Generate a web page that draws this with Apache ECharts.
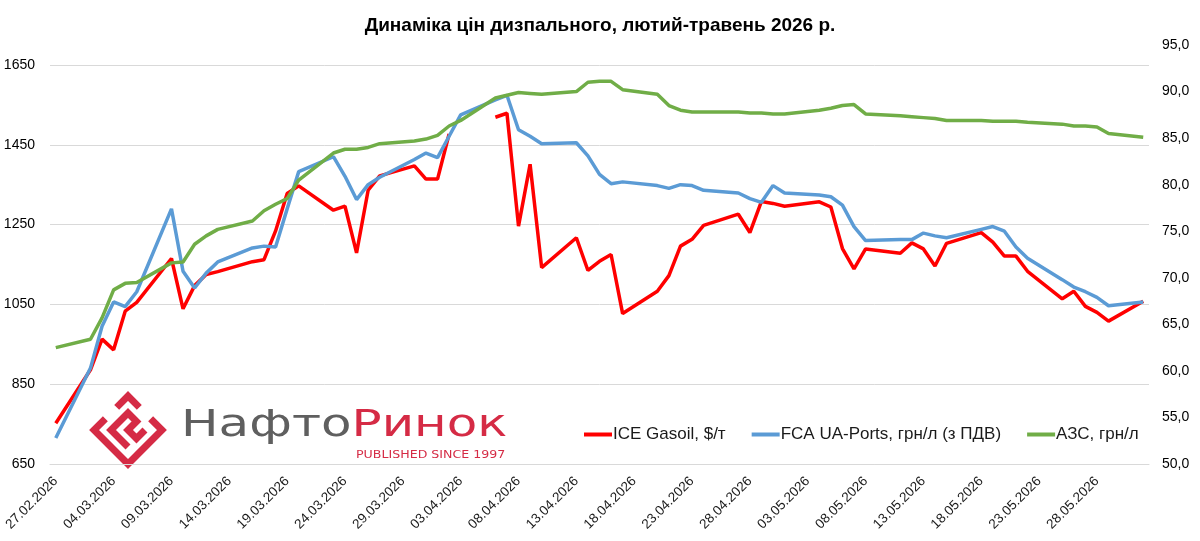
<!DOCTYPE html>
<html>
<head>
<meta charset="utf-8">
<title>Динаміка цін дизпального</title>
<script src="https://cdn.jsdelivr.net/npm/echarts@6/dist/echarts.min.js"></script>
<style>
    html, body { margin: 0; padding: 0; background: #fff; }
    #chart { width: 1200px; height: 541px; }
</style>
</head>
<body>
<div id="chart"></div>
<script>
// торгові дні (дд.мм, 2026)
var tradeDays = ['27.02',
    '02.03','03.03','04.03','05.03','06.03',
    '09.03','10.03','11.03','12.03','13.03',
    '16.03','17.03','18.03','19.03','20.03',
    '23.03','24.03','25.03','26.03','27.03',
    '30.03','31.03','01.04','02.04','03.04',
    '06.04','07.04','08.04','09.04','10.04',
    '13.04','14.04','15.04','16.04','17.04',
    '20.04','21.04','22.04','23.04','24.04',
    '27.04','28.04','29.04','30.04','01.05',
    '04.05','05.05','06.05','07.05','08.05',
    '11.05','12.05','13.05','14.05','15.05',
    '18.05','19.05','20.05','21.05','22.05',
    '25.05','26.05','27.05','28.05','29.05',
    '01.06'];

// ICE Gasoil, $/т (ліва вісь), 03.04 - немає даних
var gasoil = [752,
    886, 963, 936, 1033, 1055,
    1165, 1039, 1097, 1125, 1132,
    1157, 1162, 1234, 1328, 1347,
    1286, 1296, 1179, 1336, 1372,
    1397, 1364, 1364, 1477, null,
    1519, 1529, 1246, 1401, 1142,
    1217, 1135, 1158, 1175, 1027,
    1083, 1122, 1196, 1213, 1248,
    1276, 1230, 1308, 1303, 1296,
    1307, 1294, 1190, 1139, 1189,
    1178, 1204, 1189, 1146, 1203,
    1230, 1206, 1171, 1171, 1133,
    1064, 1083, 1045, 1030, 1008,
    1058];

// FCA UA-Ports, грн/л (права вісь)
var fcaPorts = [52.8,
    60.3, 64.8, 67.4, 66.9, 68.5,
    77.4, 70.7, 68.9, 70.5, 71.7,
    73.2, 73.4, 73.3, 77.4, 81.4,
    83.0, 80.9, 78.4, 80.0, 80.8,
    82.7, 83.4, 82.9, 85.2, 87.5,
    89.1, 89.6, 85.9, 85.2, 84.4,
    84.5, 83.1, 81.1, 80.1, 80.3,
    79.9, 79.6, 80.0, 79.9, 79.4,
    79.1, 78.5, 78.1, 79.9, 79.1,
    78.9, 78.7, 77.8, 75.5, 74.0,
    74.1, 74.1, 74.8, 74.5, 74.3,
    75.2, 75.5, 75.0, 73.3, 72.1,
    69.8, 69.0, 68.5, 67.9, 67.0,
    67.4];

// АЗС, грн/л (права вісь)
var retail = [62.5,
    63.4, 65.7, 68.7, 69.4, 69.5,
    71.6, 71.7, 73.6, 74.5, 75.2,
    76.1, 77.2, 77.9, 78.5, 80.5,
    83.4, 83.8, 83.8, 84.0, 84.4,
    84.7, 84.9, 85.3, 86.3, 86.9,
    89.3, 89.6, 89.9, 89.8, 89.7,
    90.0, 91.0, 91.1, 91.1, 90.2,
    89.7, 88.5, 88.0, 87.8, 87.8,
    87.8, 87.7, 87.7, 87.6, 87.6,
    88.0, 88.2, 88.5, 88.6, 87.6,
    87.4, 87.3, 87.2, 87.1, 86.9,
    86.9, 86.8, 86.8, 86.8, 86.7,
    86.5, 86.3, 86.3, 86.2, 85.5,
    85.1];

var seriesNames = ['ICE Gasoil, $/т', 'FCA UA-Ports, грн/л (з ПДВ)', 'АЗС, грн/л'];

// вісь дат: кожен календарний день 27.02 - 01.06
function pad(n) { return n < 10 ? '0' + n : '' + n; }
var allDays = [];
var d = new Date(2026, 1, 27);
for (var i = 0; i < 95; i++) {
    allDays.push(pad(d.getDate()) + '.' + pad(d.getMonth() + 1) + '.' + d.getFullYear());
    d.setDate(d.getDate() + 1);
}

function toPairs(values) {
    var res = [];
    for (var i = 0; i < tradeDays.length; i++) {
        res.push([tradeDays[i] + '.2026', values[i]]);
    }
    return res;
}

var baseFont = "'Liberation Sans', Arial, sans-serif";
var crimson = '#d52b45';

var myChart = echarts.init(document.getElementById('chart'));

var option = {
    animation: false,
    backgroundColor: '#ffffff',
    title: {
        text: 'Динаміка цін дизпального, лютий-травень 2026 р.',
        left: 'center',
        top: 11,
        textStyle: {
            fontFamily: baseFont,
            fontWeight: 'bold',
            fontSize: 19,
            color: '#000'
        }
    },
    legend: {
        left: 579,
        top: 421,
        itemWidth: 28,
        itemHeight: 4,
        itemGap: 26,
        icon: 'rect',
        textStyle: {
            fontFamily: baseFont,
            fontSize: 17,
            color: '#1a1a1a',
            padding: [0, 0, 0, -4]
        },
        data: seriesNames
    },
    grid: {
        left: 50,
        right: 51,
        top: 45,
        bottom: 77
    },
    xAxis: {
        type: 'category',
        data: allDays,
        boundaryGap: true,
        axisLine: { lineStyle: { color: '#d9d9d9', width: 1 } },
        axisTick: { interval: 4, length: 5, lineStyle: { color: '#d9d9d9' } },
        axisLabel: {
            interval: 4,
            rotate: 45,
            margin: 15,
            fontFamily: baseFont,
            fontSize: 13.5,
            color: '#1a1a1a'
        },
        splitLine: { show: false }
    },
    yAxis: [
        {
            type: 'value',
            min: 650,
            max: 1700,
            interval: 200,
            axisLine: { show: false },
            axisTick: { show: false },
            axisLabel: {
                showMaxLabel: false,
                margin: 15,
                fontFamily: baseFont,
                fontSize: 14,
                color: '#000',
                formatter: function (v) { return String(v); }
            },
            splitLine: {
                showMaxLine: false,
                lineStyle: { color: '#d9d9d9', width: 1 }
            }
        },
        {
            type: 'value',
            min: 50,
            max: 95,
            interval: 5,
            position: 'right',
            axisLine: { show: false },
            axisTick: { show: false },
            splitLine: { show: false },
            axisLabel: {
                margin: 13,
                fontFamily: baseFont,
                fontSize: 14,
                color: '#000',
                formatter: function (v) { return v.toFixed(1).replace('.', ','); }
            }
        }
    ],
    graphic: [
        // логотип: знак-ромб
        {
            type: 'group',
            x: 128,
            y: 430,
            rotation: Math.PI / 4,
            children: [
                { type: 'polyline', shape: { points: [[-8, -24], [-24, -24], [-24, 24], [24, 24], [24, 8]] }, style: { stroke: crimson, lineWidth: 7, fill: null } },
                { type: 'polyline', shape: { points: [[8, -24], [24, -24], [24, -8]] }, style: { stroke: crimson, lineWidth: 7, fill: null } },
                { type: 'polyline', shape: { points: [[-12, 12], [-12, -12], [12, -12], [12, 0], [0, 0], [0, 12], [12, 12]] }, style: { stroke: crimson, lineWidth: 7, fill: null } }
            ]
        },
        {
            type: 'text',
            x: 181,
            y: 408,
            scaleX: 1.35,
            style: {
                text: '{g|Нафто}{r|Ринок}',
                rich: {
                    g: { fill: '#5f5f5f', fontFamily: 'DejaVu Sans', fontSize: 37 },
                    r: { fill: crimson, fontFamily: 'DejaVu Sans', fontSize: 37 }
                }
            }
        },
        {
            type: 'text',
            x: 356,
            y: 450,
            scaleX: 1.26,
            style: {
                text: 'PUBLISHED SINCE 1997',
                fill: crimson,
                fontFamily: 'DejaVu Sans',
                fontSize: 10
            }
        }
    ],
    series: [
        {
            name: seriesNames[0],
            type: 'line',
            yAxisIndex: 0,
            data: toPairs(gasoil),
            symbol: 'none',
            connectNulls: false,
            lineStyle: { color: '#ff0000', width: 3.5 },
            itemStyle: { color: '#ff0000' },
            z: 3
        },
        {
            name: seriesNames[1],
            type: 'line',
            yAxisIndex: 1,
            data: toPairs(fcaPorts),
            symbol: 'none',
            lineStyle: { color: '#5b9bd5', width: 3.5 },
            itemStyle: { color: '#5b9bd5' },
            z: 4
        },
        {
            name: seriesNames[2],
            type: 'line',
            yAxisIndex: 1,
            data: toPairs(retail),
            symbol: 'none',
            lineStyle: { color: '#70ad47', width: 3.5 },
            itemStyle: { color: '#70ad47' },
            z: 5
        }
    ]
};
myChart.setOption(option);
</script>
</body>
</html>
